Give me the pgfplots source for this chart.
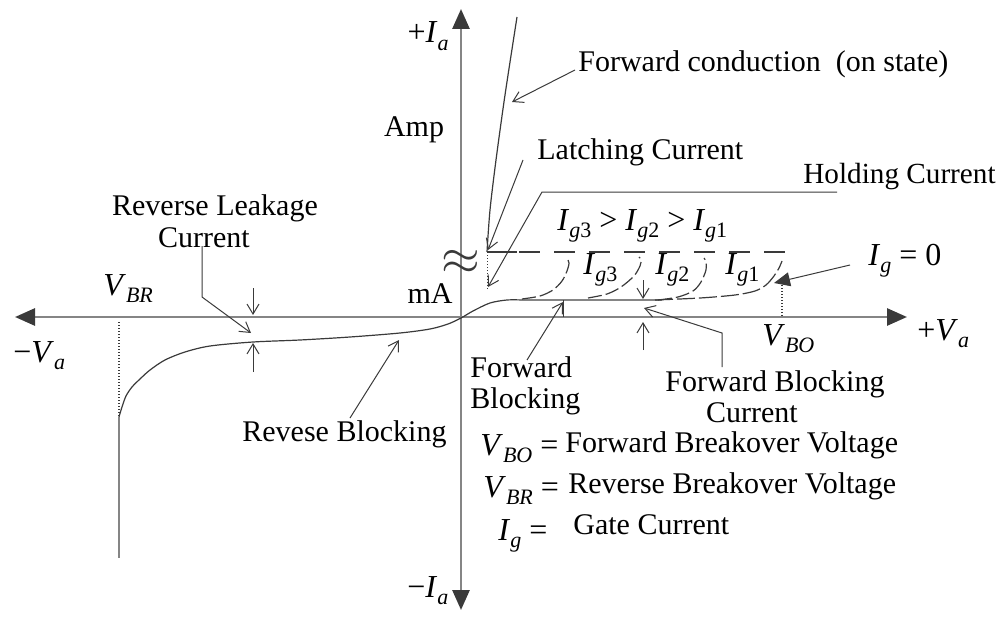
\documentclass[border=0pt]{standalone}
\usepackage{pgfplots}
\pgfplotsset{compat=1.18}
\usepackage{fontspec}
\setmainfont{Liberation Serif}
\usetikzlibrary{arrows.meta}

\definecolor{axgray}{HTML}{858585}
\definecolor{crv}{HTML}{3A3A3A}

% symbol with a lowered subscript, e.g. V_{BO}
\newcommand{\sy}[2]{\textit{#1}\raisebox{-0.5ex}{\fontsize{11}{11}\selectfont #2}}

\begin{document}
\begin{tikzpicture}[
  lbl/.style={font=\fontsize{15}{15}\selectfont, inner sep=0pt, text=black},
  sym/.style={font=\fontsize{16}{16}\selectfont, inner sep=0pt, text=black},
]
\begin{axis}[
  width=500.5pt, height=313pt, scale only axis,
  xmin=0, xmax=1001, ymin=0, ymax=626, y dir=reverse,
  axis lines=none, clip=false,
  axisline/.style={draw=axgray, line width=1.4pt},
  curve/.style={draw=crv, line width=0.6pt, mark=none},
  ann/.style={draw=crv, line width=0.5pt, mark=none},
  barb/.style={-{Straight Barb[length=5pt,width=6pt]}},
  tri/.style={{Triangle[length=10pt,width=8.5pt,color=crv]}-{Triangle[length=10pt,width=8.5pt,color=crv]}},
]
% frame of the drawing
\addplot[draw=none, mark=none] coordinates {(0,0) (1001,626)};

% voltage and current axes
\addplot[axisline, tri] coordinates {(15,317) (907,317)};
\addplot[axisline, tri] coordinates {(461,610) (461,9)};

% reverse blocking and forward blocking branch through the origin
\addplot[curve, smooth] coordinates {
  (119,417) (122,407) (126,396) (132,387) (140,379) (150,370) (165,360)
  (185,352) (210,346) (253,342) (300,340) (350,337) (400,333) (430,329)
  (448,324) (461,318) (473,311) (490,303) (507,300) (523,300)};
% reverse breakdown
\addplot[draw=axgray, line width=1pt, mark=none] coordinates {(119,417) (119,558)};
\addplot[ann, densely dotted, line width=0.8pt] coordinates {(119,322) (119,417)};

% forward blocking current level
\addplot[draw=axgray, line width=1pt, mark=none] coordinates {(520,300) (662,300)};

% gate current branches
\addplot[curve, smooth, dash pattern=on 7pt off 2pt] coordinates {
  (522,299) (540,296) (553,290) (562,281) (567,271) (569,263) (567,258)};
\addplot[curve, smooth, dash pattern=on 7pt off 2pt] coordinates {
  (588,298) (607,294) (621,287) (634,276) (640,266) (641,260) (639,257)};
\addplot[curve, smooth, dash pattern=on 7pt off 2pt] coordinates {
  (658,300) (678,297) (693,291) (701,282) (706,270) (706,262) (704,258)};
% I_g = 0 branch up to breakover
\addplot[curve, smooth, dash pattern=on 9pt off 2pt] coordinates {
  (655,300) (700,298) (735,295) (755,291) (766,285) (774,276) (779,268) (782,261)};

% switching back to the on-state
\addplot[curve] coordinates {(487,252) (517,252)};
\addplot[curve, dash pattern=on 10.5pt off 7pt] coordinates {(519,252) (785,252)};
\addplot[ann, densely dotted] coordinates {(487,252) (487,290)};
\addplot[ann, densely dotted, line width=0.8pt] coordinates {(782,285) (782,317)};

% forward conduction (on state)
\addplot[curve, smooth] coordinates {
  (517,17) (505,95) (496,160) (490,210) (487,252)};

% annotation leaders
\addplot[ann, barb] coordinates {(575,70) (512,102)};
\addplot[ann, barb] coordinates {(523,160) (488,250)};
\addplot[ann, barb] coordinates {(837,192) (542,192) (488,287)};
\addplot[ann, barb] coordinates {(202,246) (202,297) (251,333)};
\addplot[ann, barb] coordinates {(253,288) (253,315)};
\addplot[ann, barb] coordinates {(253,372) (253,343)};
\addplot[ann, barb] coordinates {(350,418) (399,340)};
\addplot[ann, barb] coordinates {(527,360) (563,302)};
\addplot[ann] coordinates {(563,300) (563,317)};
\addplot[ann, barb] coordinates {(643,280) (643,299)};
\addplot[ann, barb] coordinates {(643,350) (643,322)};
\addplot[ann, barb] coordinates {(722,367) (722,333) (644,308)};
\addplot[ann, -{Triangle[length=8pt,width=7pt]}] coordinates {(850,265) (774,283)};

% axis labels
\node[sym, anchor=base east] at (449,43) {+\sy{I}{\textit{a}}};
\node[lbl, anchor=base] at (414,137) {Amp};
\node[inner sep=0pt, font=\fontsize{24}{24}\selectfont, text=crv] at (461,262) {$\approx$};
\node[lbl, anchor=base] at (430,303) {mA};
\node[sym, anchor=base west] at (13,362) {−\sy{V}{\textit{a}}};
\node[sym, anchor=base west] at (103,295) {\sy{V}{\textit{BR}}};
\node[sym, anchor=base west] at (762,345) {\sy{V}{\textit{BO}}};
\node[sym, anchor=base west] at (917,340) {+\sy{V}{\textit{a}}};
\node[sym, anchor=base west] at (407,597) {−\sy{I}{\textit{a}}};

% region labels
\node[lbl, anchor=base west] at (578,72) {Forward conduction\ \ (on state)};
\node[lbl, anchor=base west] at (537,160) {Latching Current};
\node[lbl, anchor=base west, font=\fontsize{14.6}{14.6}\selectfont] at (803,184) {Holding Current};
\node[sym, anchor=base west] at (557,230) {\sy{I}{\textit{g}3} > \sy{I}{\textit{g}2} > \sy{I}{\textit{g}1}};
\node[sym, anchor=base west] at (583,274) {\sy{I}{\textit{g}3}};
\node[sym, anchor=base west] at (655,274) {\sy{I}{\textit{g}2}};
\node[sym, anchor=base west] at (725,274) {\sy{I}{\textit{g}1}};
\node[sym, anchor=base west] at (868,265) {\sy{I}{\textit{g}} = 0};
\node[lbl, anchor=base] at (215,215) {Reverse Leakage};
\node[lbl, anchor=base] at (204,247) {Current};
\node[lbl, anchor=base west] at (242,441) {Revese Blocking};
\node[lbl, anchor=base west] at (470,377) {Forward};
\node[lbl, anchor=base west] at (470,408) {Blocking};
\node[lbl, anchor=base west] at (665,391) {Forward Blocking};
\node[lbl, anchor=base] at (752,422) {Current};

% legend of symbols
\node[sym, anchor=base west] at (480,455) {\sy{V}{\textit{BO}} =};
\node[lbl, anchor=base west] at (565,452) {Forward Breakover Voltage};
\node[sym, anchor=base west] at (483,497) {\sy{V}{\textit{BR}} =};
\node[lbl, anchor=base west] at (568,493) {Reverse Breakover Voltage};
\node[sym, anchor=base west] at (498,540) {\sy{I}{\textit{g}} =};
\node[lbl, anchor=base west] at (573,534) {Gate Current};
\end{axis}
\end{tikzpicture}
\end{document}
